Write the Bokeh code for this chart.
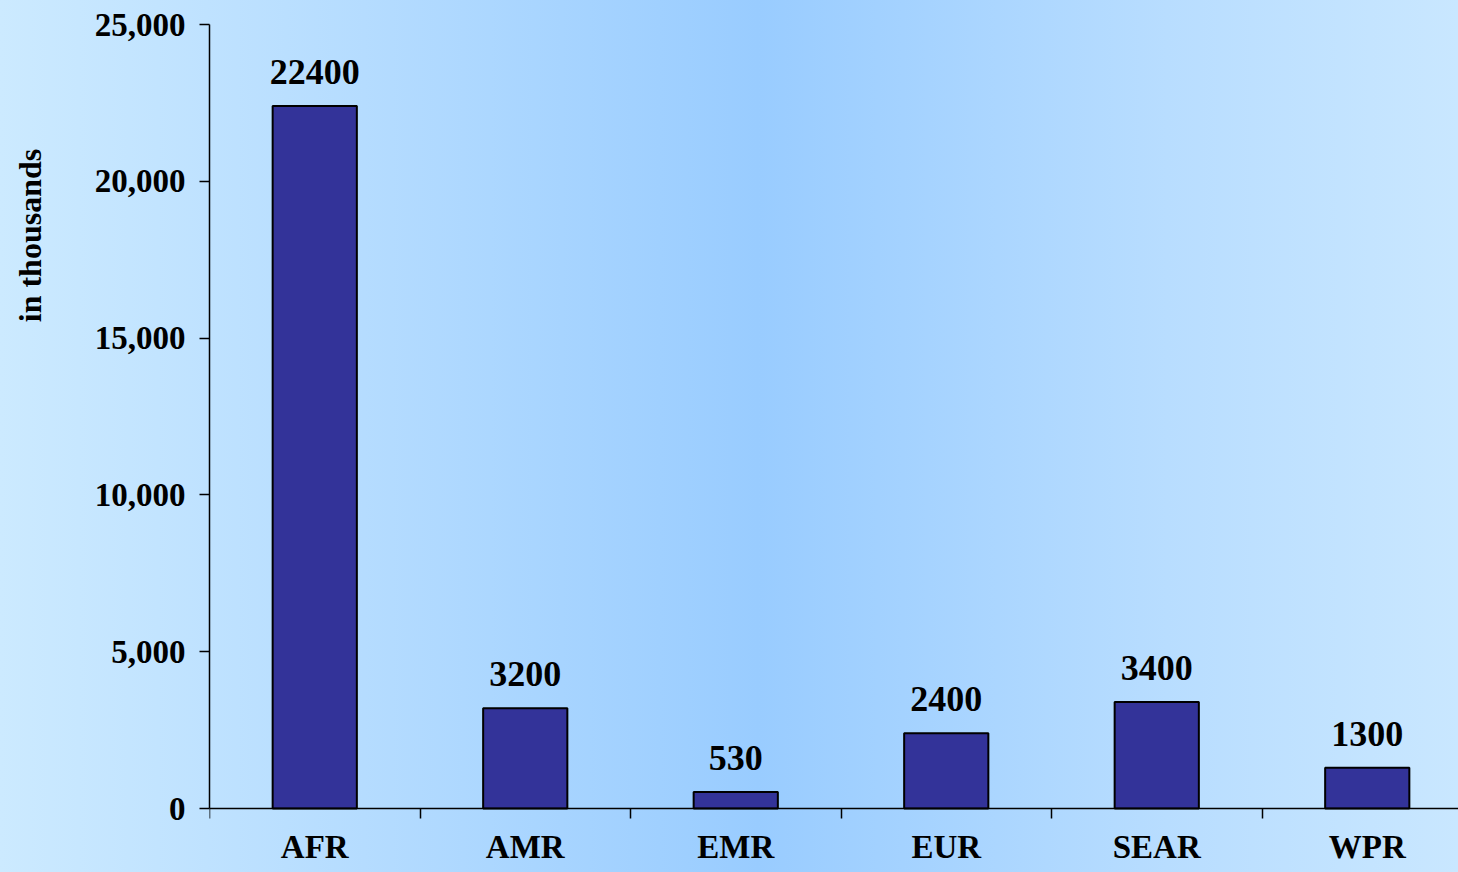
import math
from bokeh.plotting import figure
from bokeh.layouts import row
from bokeh.models import (Range1d, LinearAxis, FixedTicker, NumeralTickFormatter,
                          ColumnDataSource, GlobalInlineStyleSheet)
from bokeh.core.properties import value
from bokeh.embed import file_html
from bokeh.resources import INLINE

categories = ["AFR", "AMR", "EMR", "EUR", "SEAR", "WPR"]
values = [22400, 3200, 530, 2400, 3400, 1300]
y_ticks = [0, 5000, 10000, 15000, 20000, 25000]
y_title = "in thousands"

FONT = "Liberation Serif"
GRAD = "linear-gradient(to right, #cceaff 0%, #b5dcff 25%, #99ccff 52%, #b8ddff 80%, #c9e7ff 100%)"

xs = [i + 0.5 for i in range(len(categories))]
src = ColumnDataSource(dict(x=xs, top=values, label=[str(v) for v in values]))

W, H = 1458, 872
TITLE_W = 58
LEFT, TOP, ZERO_Y = 209, 24, 808
ymax = y_ticks[-1]
px_per_unit = (ZERO_Y - TOP) / ymax
ymin = -(H - ZERO_Y) / px_per_unit
cat_px = 210.5
xmax = (W - LEFT) / cat_px
yr = Range1d(ymin, ymax)

# narrow strip holding the rotated y title
t = figure(width=TITLE_W, height=H, output_backend="svg", toolbar_location=None,
           x_range=Range1d(0, 1), y_range=yr, x_axis_type=None, y_axis_type=None,
           min_border_left=0, min_border_right=0, min_border_top=TOP, min_border_bottom=0)
t.background_fill_color = None
t.border_fill_color = None
t.outline_line_color = None
t.grid.visible = False
title_center = (ZERO_Y - 235) / px_per_unit
t.text(x=[0.5], y=[title_center], text=[y_title], angle=math.pi / 2,
       text_align="center", text_baseline="middle",
       text_font=value(FONT), text_font_style="bold", text_font_size="32px",
       text_color="black")

p = figure(width=W - TITLE_W, height=H, output_backend="svg", toolbar_location=None,
           x_range=Range1d(0, xmax), y_range=yr,
           x_axis_type=None, y_axis_type=None,
           min_border_left=LEFT - TITLE_W, min_border_right=0, min_border_top=TOP, min_border_bottom=0)
p.background_fill_color = None
p.border_fill_color = None
p.outline_line_color = None
p.grid.visible = False
p.stylesheets = [GlobalInlineStyleSheet(css="html, body { background: %s; }" % GRAD)]

# y axis
ya = LinearAxis(ticker=FixedTicker(ticks=y_ticks, minor_ticks=[]),
                formatter=NumeralTickFormatter(format="0,0"),
                bounds=(0, ymax))
ya.major_tick_out = 10
ya.major_tick_in = 0
ya.minor_tick_out = 0
ya.minor_tick_in = 0
ya.axis_line_width = 1.5
ya.major_tick_line_width = 1.5
ya.major_label_standoff = 14
ya.major_label_text_font = FONT
ya.major_label_text_font_style = "bold"
ya.major_label_text_font_size = "33px"
ya.major_label_text_color = "black"
p.add_layout(ya, "left")

# x axis at y = 0
xa = LinearAxis(ticker=FixedTicker(ticks=xs, minor_ticks=list(range(len(categories) + 1))),
                fixed_location=0)
xa.major_label_overrides = {x: c for x, c in zip(xs, categories)}
xa.major_tick_out = 0
xa.major_tick_in = 0
xa.minor_tick_out = 10
xa.minor_tick_in = 0
xa.axis_line_width = 1.5
xa.minor_tick_line_width = 1.5
xa.major_label_standoff = 10
xa.major_label_text_font = FONT
xa.major_label_text_font_style = "bold"
xa.major_label_text_font_size = "33px"
xa.major_label_text_color = "black"
xa.major_label_text_baseline = "top"
p.add_layout(xa, "below")

p.vbar(x="x", top="top", width=0.4, bottom=0, source=src,
       fill_color="#333399", line_color="black", line_width=2)

p.text(x="x", y="top", text="label", source=src, y_offset=-34,
       text_align="center", text_baseline="alphabetic",
       text_font=value(FONT), text_font_style="bold", text_font_size="36px",
       text_color="black")

layout = row(t, p, spacing=0)
layout.stylesheets = [GlobalInlineStyleSheet(css="html, body { background: %s; }" % GRAD)]

open("out.html", "w").write(file_html(layout, INLINE))
